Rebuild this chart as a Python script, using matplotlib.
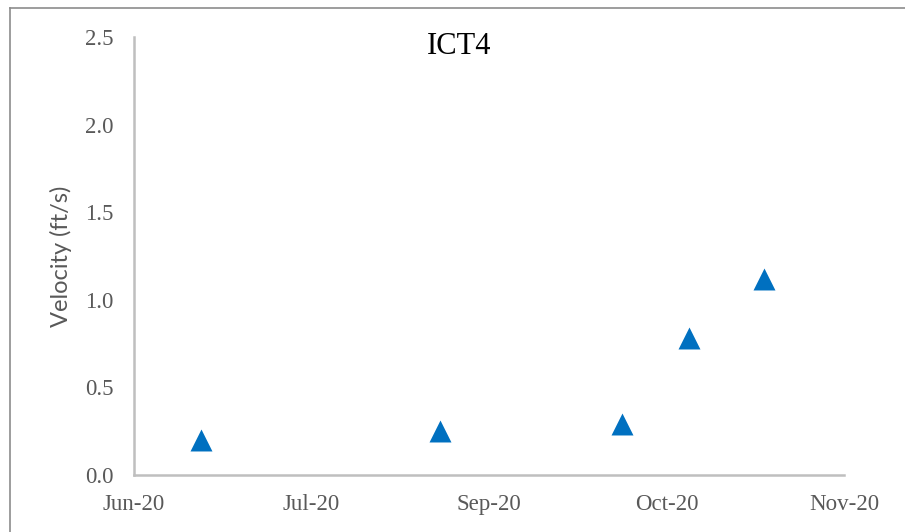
import matplotlib
matplotlib.use("Agg")
import matplotlib.pyplot as plt
from matplotlib.lines import Line2D
import datetime as dt

# ---- data ----
dates = ["2020-06-30", "2020-08-23", "2020-10-03", "2020-10-18", "2020-11-04"]
velocity = [0.20, 0.25, 0.29, 0.78, 1.12]
tick_dates = ["2020-06-15", "2020-07-25", "2020-09-03", "2020-10-13", "2020-11-22"]
tick_labels = ["Jun-20", "Jul-20", "Sep-20", "Oct-20", "Nov-20"]
y_ticks = [0.0, 0.5, 1.0, 1.5, 2.0, 2.5]
title = "ICT4"
ylabel = "Velocity (ft/s)"

to_dt = lambda s: dt.datetime.strptime(s, "%Y-%m-%d")
xd = [to_dt(d) for d in dates]
xt = [to_dt(d) for d in tick_dates]

W, H = 905, 532
fig = plt.figure(figsize=(W / 100, H / 100), dpi=100)
ax = fig.add_axes([134 / W, (H - 475) / H, (844 - 134) / W, (475 - 37) / H])

ax.scatter(xd, velocity, marker="^", s=250, color="#0070C0", linewidths=0, zorder=3)

ax.set_xlim(xt[0], xt[-1])
ax.set_ylim(0, 2.5)
ax.set_xticks(xt)
ax.set_xticklabels(tick_labels)
ax.set_yticks(y_ticks)
ax.set_yticklabels([f"{v:.1f}" for v in y_ticks])

serif = ["Liberation Serif", "DejaVu Serif"]
for lab in ax.get_xticklabels() + ax.get_yticklabels():
    lab.set_fontfamily(serif)
    lab.set_fontsize(16.5)
    lab.set_color("#595959")
ax.tick_params(axis="both", length=0)
ax.tick_params(axis="x", pad=14)
ax.tick_params(axis="y", pad=15)

for side in ["top", "right"]:
    ax.spines[side].set_visible(False)
for side in ["left", "bottom"]:
    ax.spines[side].set_color("#BFBFBF")
    ax.spines[side].set_linewidth(1.8)

fig.text(61 / W, 1 - 256 / H, ylabel, rotation=90, ha="center", va="center",
         fontfamily=["Lato", "DejaVu Sans"], fontsize=17, color="#595959")

fig.text(459 / W, 1 - 47 / H, title, fontfamily=serif, fontsize=22,
         color="black", ha="center", va="center")

# outer chart frame
fig.add_artist(Line2D([9.5 / W, 9.5 / W], [0, 1 - 8 / H], transform=fig.transFigure,
                      color="#8C8C8C", linewidth=1.2))
fig.add_artist(Line2D([9.5 / W, 1], [1 - 8 / H, 1 - 8 / H], transform=fig.transFigure,
                      color="#8C8C8C", linewidth=1.2))

fig.savefig("out.png", dpi=100)
